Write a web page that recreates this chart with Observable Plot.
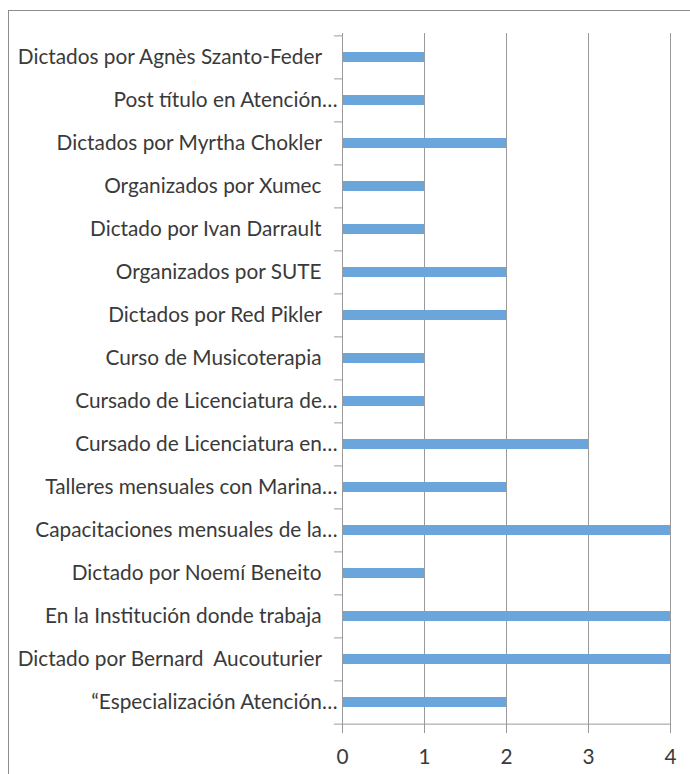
<!DOCTYPE html>
<html>
<head>
<meta charset="utf-8">
<script src="https://cdn.jsdelivr.net/npm/d3@7"></script>
<script src="https://cdn.jsdelivr.net/npm/@observablehq/plot@0.6"></script>
<style>
  html, body { margin: 0; padding: 0; background: #fff; overflow: hidden; }
  #wrap { position: relative; width: 690px; height: 774px; }
  #border { position: absolute; left: 8px; top: 10px; width: 800px; height: 900px;
            border-left: 1px solid #8c8c8c; border-top: 1px solid #8c8c8c; }
  #chart { position: absolute; left: 0; top: 0; }
</style>
</head>
<body>
<div id="wrap"><div id="border"></div><div id="chart"></div></div>
<script>
const categories = [
  "Dictados por Agnès Szanto-Feder",
  "Post título en Atención…",
  "Dictados por Myrtha Chokler",
  "Organizados por Xumec",
  "Dictado por Ivan Darrault",
  "Organizados por SUTE",
  "Dictados por Red Pikler",
  "Curso de Musicoterapia",
  "Cursado de Licenciatura de…",
  "Cursado de Licenciatura en…",
  "Talleres mensuales con Marina…",
  "Capacitaciones mensuales de la…",
  "Dictado por Noemí Beneito",
  "En la Institución donde trabaja",
  "Dictado por Bernard  Aucouturier",
  "“Especialización Atención…"
];
const values = [1, 1, 2, 1, 1, 2, 2, 1, 1, 3, 2, 4, 1, 4, 4, 2];
const xTicks = [0, 1, 2, 3, 4];

const data = categories.map((c, i) => ({category: c, value: values[i]}));
const fmt = d => d.endsWith("…") ? d : d + "\u00a0\u00a0\u00a0";

const W = 690, H = 774, mL = 342, mR = 20, mT = 33, mB = 49;
const band = (H - mT - mB) / categories.length;
const grey = "#9a9a9a";
const textColor = "#3a3a3a";
const font = 20.8;

const chart = Plot.plot({
  width: W,
  height: H,
  marginLeft: mL,
  marginRight: mR,
  marginTop: mT,
  marginBottom: mB,
  style: {fontFamily: "Lato, 'Open Sans', sans-serif", fontSize: font + "px", color: textColor, background: "transparent"},
  x: {domain: [0, 4]},
  y: {domain: categories, paddingInner: 0.77, paddingOuter: 0.385},
  marks: [
    Plot.gridX(xTicks.slice(1), {stroke: grey, strokeOpacity: 1, strokeWidth: 1}),
    Plot.barX(data, {x: "value", y: "category", fill: "#6aa5db"}),
    Plot.ruleY([categories[categories.length - 1]], {dy: band / 2, stroke: grey}),
    Plot.ruleX([0], {stroke: grey}),
    Plot.axisX({ticks: xTicks, tickFormat: d => String(d), tickSize: 8, tickPadding: 16, stroke: grey, fill: textColor, label: null, fontSize: font}),
    Plot.axisY({tickSize: 8, tickFormat: () => "", dy: -band / 2, stroke: grey, label: null}),
    Plot.axisY({ticks: [categories[categories.length - 1]], tickSize: 8, tickFormat: () => "", dy: band / 2, stroke: grey, label: null}),
    Plot.axisY({tickSize: 0, tickPadding: 5, tickFormat: fmt, label: null, fontSize: font, fill: textColor})
  ]
});
document.getElementById("chart").append(chart);
</script>
</body>
</html>
